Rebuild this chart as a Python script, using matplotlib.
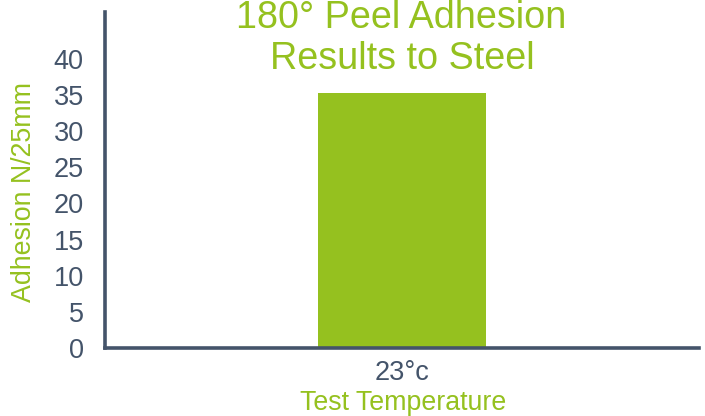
import matplotlib
matplotlib.use("Agg")
import matplotlib.pyplot as plt

categories = ["23°c"]
adhesion = [35.3]
yticks = [0, 5, 10, 15, 20, 25, 30, 35, 40]

GREEN = "#95C11F"
DARK = "#44546A"

plt.rcParams['font.family'] = ['Liberation Sans', 'DejaVu Sans']

fig = plt.figure(figsize=(7.05, 4.16), dpi=100)
W, H = 705, 416
left, right, top, bottom = 104.5, 699, 12, 348
ax = fig.add_axes([left / W, 1 - bottom / H, (right - left) / W, (bottom - top) / H])

x = list(range(len(categories)))
ax.bar(x, adhesion, width=0.283, color=GREEN, zorder=1)
ax.set_xlim(-0.5, 0.5)
ax.set_ylim(0, 46.5)
ax.set_yticks(yticks)
ax.set_xticks(x)
ax.set_xticklabels(categories)

for s in ['top', 'right']:
    ax.spines[s].set_visible(False)
for s in ['left', 'bottom']:
    ax.spines[s].set_color(DARK)
    ax.spines[s].set_linewidth(2.6)
    ax.spines[s].set_zorder(3)

ax.tick_params(axis='y', length=0, pad=15, labelsize=19.5, labelcolor=DARK)
ax.tick_params(axis='x', length=0, pad=9, labelsize=19.5, labelcolor=DARK)

fig.text(401.5 / W, 1 - 28 / H, "180° Peel Adhesion", ha='center', va='baseline',
         fontsize=27.2, color=GREEN)
fig.text(402.5 / W, 1 - 69 / H, "Results to Steel", ha='center', va='baseline',
         fontsize=27.2, color=GREEN)
fig.text(403 / W, 1 - 409.5 / H, "Test Temperature", ha='center', va='baseline',
         fontsize=19.3, color=GREEN)
fig.text(24 / W, 1 - 192.5 / H, "Adhesion N/25mm", ha='center', va='center',
         rotation=90, fontsize=19.3, color=GREEN)

fig.savefig("out.png", dpi=100)
